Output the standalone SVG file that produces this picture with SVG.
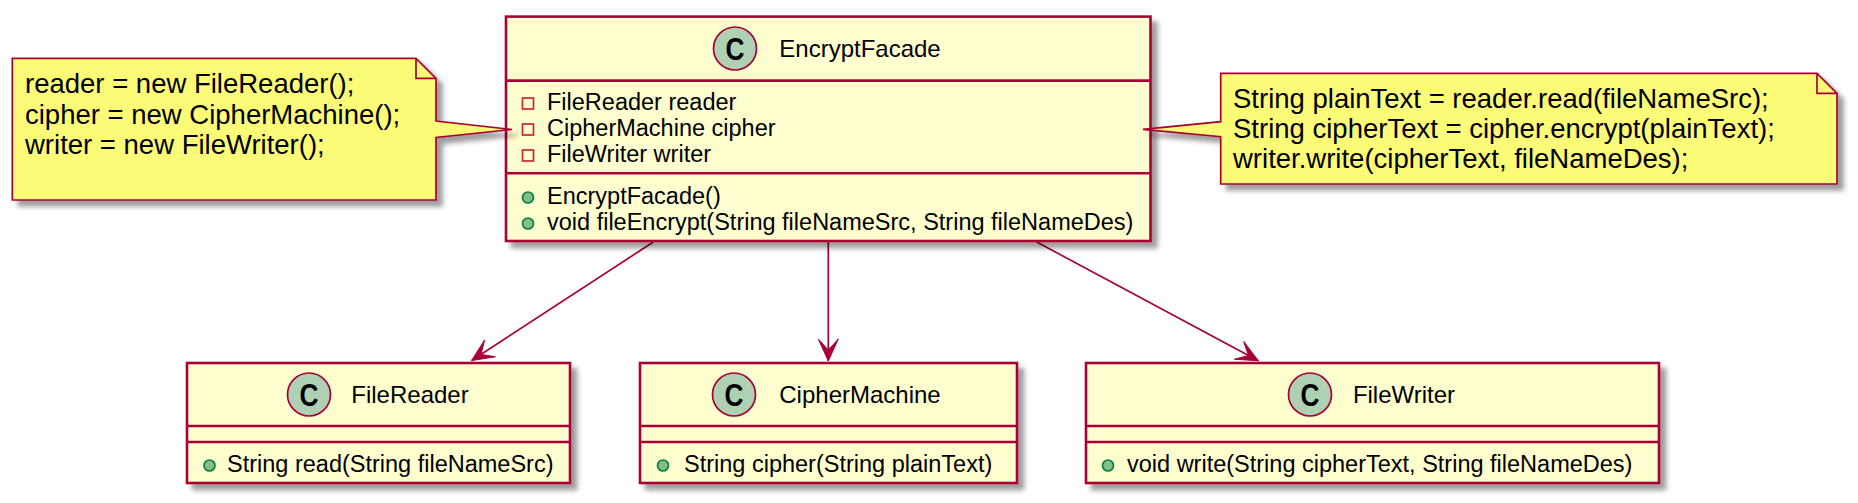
<svg xmlns="http://www.w3.org/2000/svg" width="1858" height="503" viewBox="0 0 1858 503">
<defs>
<filter id="sh" x="-5%" y="-10%" width="115%" height="130%">
<feDropShadow dx="6" dy="6" stdDeviation="2.5" flood-color="#000" flood-opacity="0.38"/>
</filter>
<marker id="arr" markerUnits="userSpaceOnUse" markerWidth="40" markerHeight="40" refX="0" refY="0" orient="auto" viewBox="-30 -20 40 40" overflow="visible">
<path d="M0,0 L-22,-10 L-11,0 L-22,10 Z" fill="#A80036" stroke="#A80036" stroke-width="1"/>
</marker>
</defs>
<style>
.box{fill:#FEFECE;stroke:#A80036;stroke-width:2.6;filter:url(#sh)}
.sep{stroke:#A80036;stroke-width:2.6}
.ci{fill:#ADD1B2;stroke:#A80036;stroke-width:1.7}
.cl{font-family:"Liberation Sans",Arial,sans-serif;font-weight:bold;font-size:32px;fill:#000;text-anchor:middle}
text{font-family:"Liberation Sans",Arial,sans-serif;fill:#000}
.title{font-size:24px;text-anchor:middle}
.mem{font-size:23.5px}
.note{fill:#FBFB77;stroke:#A80036;stroke-width:1.7;filter:url(#sh)}
.fold{fill:none;stroke:#A80036;stroke-width:1.7}
.nt{font-size:27.5px}
.priv{fill:none;stroke:#C82930;stroke-width:1.7}
.pub{fill:#84BE84;stroke:#038048;stroke-width:1.7}
.edge{stroke:#A80036;stroke-width:1.7;fill:none;marker-end:url(#arr)}
</style>

<g id="connectors">
<line class="edge" x1="653.3" y1="242" x2="471.7" y2="360.5"/>
<line class="edge" x1="828.3" y1="242" x2="828.3" y2="361"/>
<line class="edge" x1="1036.7" y1="242" x2="1258.3" y2="360.7"/>
</g>

<g id="EncryptFacade">
<rect class="box" x="506" y="16.6" width="644.5" height="224.4"/>
<line class="sep" x1="506" y1="80.6" x2="1150.5" y2="80.6"/>
<line class="sep" x1="506" y1="173.3" x2="1150.5" y2="173.3"/>
<circle class="ci" cx="735" cy="48.5" r="21.5"/>
<text class="cl" transform="translate(735,59.8) scale(0.82,1)">C</text>
<text class="title" x="860" y="57.3">EncryptFacade</text>
<rect class="priv" x="522.5" y="98" width="11" height="11"/>
<rect class="priv" x="522.5" y="124" width="11" height="11"/>
<rect class="priv" x="522.5" y="150" width="11" height="11"/>
<text class="mem" x="547" y="109.5">FileReader reader</text>
<text class="mem" x="547" y="135.5">CipherMachine cipher</text>
<text class="mem" x="547" y="161.5">FileWriter writer</text>
<circle class="pub" cx="528" cy="197.5" r="5.5"/>
<circle class="pub" cx="528" cy="223.5" r="5.5"/>
<text class="mem" x="547" y="204">EncryptFacade()</text>
<text class="mem" x="547" y="230">void fileEncrypt(String fileNameSrc, String fileNameDes)</text>
</g>

<g id="FileReader">
<rect class="box" x="187" y="363" width="383" height="120"/>
<line class="sep" x1="187" y1="426" x2="570" y2="426"/>
<line class="sep" x1="187" y1="442" x2="570" y2="442"/>
<circle class="ci" cx="309" cy="394.5" r="21.5"/>
<text class="cl" transform="translate(309,405.8) scale(0.82,1)">C</text>
<text class="title" x="410" y="403">FileReader</text>
<circle class="pub" cx="209.5" cy="465.5" r="5.5"/>
<text class="mem" x="227" y="472">String read(String fileNameSrc)</text>
</g>

<g id="CipherMachine">
<rect class="box" x="640" y="363" width="377" height="120"/>
<line class="sep" x1="640" y1="426" x2="1017" y2="426"/>
<line class="sep" x1="640" y1="442" x2="1017" y2="442"/>
<circle class="ci" cx="734" cy="394.5" r="21.5"/>
<text class="cl" transform="translate(734,405.8) scale(0.82,1)">C</text>
<text class="title" x="860" y="403">CipherMachine</text>
<circle class="pub" cx="663" cy="465.5" r="5.5"/>
<text class="mem" x="684" y="472">String cipher(String plainText)</text>
</g>

<g id="FileWriter">
<rect class="box" x="1086" y="363" width="573" height="120"/>
<line class="sep" x1="1086" y1="426" x2="1659" y2="426"/>
<line class="sep" x1="1086" y1="442" x2="1659" y2="442"/>
<circle class="ci" cx="1310" cy="394.5" r="21.5"/>
<text class="cl" transform="translate(1310,405.8) scale(0.82,1)">C</text>
<text class="title" x="1404" y="403">FileWriter</text>
<circle class="pub" cx="1108" cy="465.5" r="5.5"/>
<text class="mem" x="1127" y="472">void write(String cipherText, String fileNameDes)</text>
</g>

<g id="note-left">
<polygon class="note" points="12.3,58.3 416,58.3 436,78.3 436,121 512,129.5 436,137.5 436,200 12.3,200"/>
<path class="fold" d="M416,58.3 L416,78.3 L436,78.3"/>
<text class="nt" x="25" y="93.3">reader = new FileReader();</text>
<text class="nt" x="25" y="123.5">cipher = new CipherMachine();</text>
<text class="nt" x="25" y="153.8">writer = new FileWriter();</text>
</g>

<g id="note-right">
<polygon class="note" points="1220.7,73.3 1817,73.3 1837,93.3 1837,184 1220.7,184 1220.7,136.7 1143,129.3 1220.7,121.7"/>
<path class="fold" d="M1817,73.3 L1817,93.3 L1837,93.3"/>
<text class="nt" x="1233" y="108.3">String plainText = reader.read(fileNameSrc);</text>
<text class="nt" x="1233" y="138.3">String cipherText = cipher.encrypt(plainText);</text>
<text class="nt" x="1233" y="168.3">writer.write(cipherText, fileNameDes);</text>
</g>
</svg>
